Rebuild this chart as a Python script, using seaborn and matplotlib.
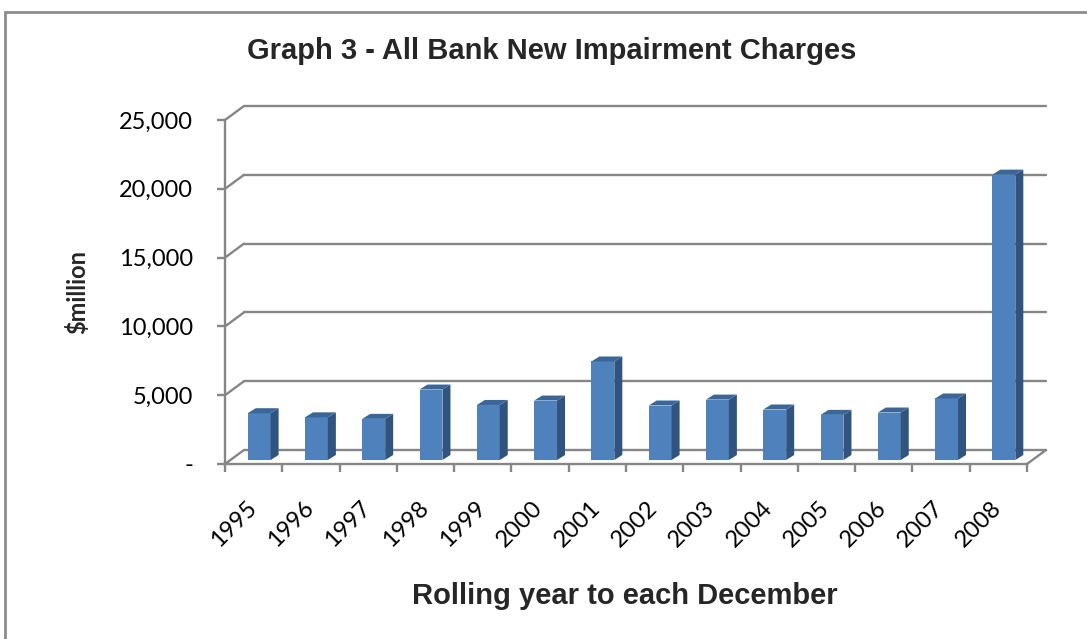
import numpy as np
import pandas as pd
import matplotlib
matplotlib.use("Agg")
import matplotlib.pyplot as plt
import seaborn as sns
from matplotlib.patches import Polygon
from matplotlib.lines import Line2D
from matplotlib.transforms import ScaledTranslation

# ---------------- data ----------------
years = ["1995", "1996", "1997", "1998", "1999", "2000", "2001",
         "2002", "2003", "2004", "2005", "2006", "2007", "2008"]
charges = [3400, 3100, 2990, 5120, 4000, 4320, 7160,
           3960, 4390, 3670, 3280, 3450, 4470, 20740]
y_ticks = [0, 5000, 10000, 15000, 20000, 25000]
y_tick_labels = ["-", "5,000", "10,000", "15,000", "20,000", "25,000"]
title = "Graph 3 - All Bank New Impairment Charges"
x_title = "Rolling year to each December"
y_title = "$million"

# ---------------- style ----------------
sns.set_theme(style="white")
plt.rcParams['font.family'] = ['Lato', 'DejaVu Sans']

W, H = 1087, 639
GRID = "#868686"
FRONT = "#4F81BD"
SIDE = "#31547E"
TOP = "#3B6699"

fig = plt.figure(figsize=(W / 100, H / 100), dpi=100)
fig.patch.set_facecolor("white")
ax = fig.add_axes([225 / W, 1 - 464 / H, 802 / W, 344 / H])
ax.set_facecolor("none")

df = pd.DataFrame({"year": years, "charges": charges})
sns.barplot(data=df, x="year", y="charges", color=FRONT, saturation=1,
            width=0.4, ax=ax, zorder=3, linewidth=0)

ax.set_xlim(-0.5, len(years) - 0.5)
ax.set_ylim(0, 25000)

# pixel -> data conversion
p0 = ax.transData.transform((0, 0))
p1 = ax.transData.transform((1, 1))
kx = 1.0 / (p1[0] - p0[0])   # data units per pixel (x)
ky = 1.0 / (p1[1] - p0[1])   # data units per pixel (y)

def off(px, py):
    return px * kx, py * ky

bx, by = off(19, 14)    # back wall offset
fx, fy = off(5.5, 4)    # bar front face offset
dx, dy = off(8, 5)      # bar depth

# back wall gridlines + side connectors
x0, x1 = -0.5, len(years) - 0.5
for v in y_ticks:
    ax.add_line(Line2D([x0 + bx, x1 + bx], [v + by, v + by], color=GRID,
                       lw=1.7, clip_on=False, zorder=1))
    ax.add_line(Line2D([x0, x0 + bx], [v, v + by], color=GRID,
                       lw=1.7, clip_on=False, zorder=1))
ax.add_line(Line2D([x1, x1 + bx], [0, by], color=GRID, lw=1.7,
                   clip_on=False, zorder=1))

# 3D faces for each bar drawn by seaborn
for p in list(ax.patches):
    x = p.get_x() + fx
    w = p.get_width()
    h = p.get_height()
    p.set_x(x)
    p.set_y(fy)
    p.set_clip_on(False)
    side = Polygon([(x + w, fy), (x + w + dx, fy + dy),
                    (x + w + dx, fy + h + dy), (x + w, fy + h)],
                   closed=True, facecolor=SIDE, edgecolor="none",
                   zorder=3, clip_on=False)
    top = Polygon([(x, fy + h), (x + w, fy + h),
                   (x + w + dx, fy + h + dy), (x + dx, fy + h + dy)],
                  closed=True, facecolor=TOP, edgecolor="none",
                  zorder=3, clip_on=False)
    ax.add_patch(side)
    ax.add_patch(top)

# spines
for s in ["top", "right"]:
    ax.spines[s].set_visible(False)
for s in ["left", "bottom"]:
    ax.spines[s].set_color(GRID)
    ax.spines[s].set_linewidth(1.7)
    ax.spines[s].set_zorder(2)

# y axis ticks
ax.set_yticks(y_ticks)
ax.set_yticklabels(y_tick_labels)
ax.tick_params(axis="y", direction="out", length=6, width=1.7, color=GRID,
               labelsize=17, pad=17, labelcolor="black", left=True)

# x axis: boundary ticks (minor) + centered labels (major)
ax.set_xticks(np.arange(len(years)))
ax.set_xticks(np.arange(-0.5, len(years), 1.0), minor=True)
ax.set_xticklabels(years)
ax.tick_params(axis="x", which="major", length=0, labelsize=17,
               pad=43, labelcolor="black", bottom=True)
ax.tick_params(axis="x", which="minor", direction="out", length=6,
               width=1.7, color=GRID, bottom=True)
shift = ScaledTranslation(-20 / 100, 0, fig.dpi_scale_trans)
for lab in ax.get_xticklabels():
    lab.set_rotation(45)
    lab.set_ha("center")
    lab.set_va("center")
    lab.set_transform(lab.get_transform() + shift)

ax.set_xlabel("")
ax.set_ylabel("")

# titles
fig.text(552 / W, 1 - 51 / H, title, ha="center", va="center",
         fontsize=21, fontweight="bold", family=["Liberation Sans", "DejaVu Sans"])
fig.text(625 / W, 1 - 596 / H, x_title, ha="center", va="center",
         fontsize=21, fontweight="bold", family=["Liberation Sans", "DejaVu Sans"])
fig.text(77 / W, 1 - 292 / H, y_title, ha="center", va="center",
         rotation=90, fontsize=17, fontweight="bold")

# outer chart frame (partially visible)
fig.add_artist(Line2D([5 / W, 5 / W], [0, 1 - 12 / H], color="#8C8C8C",
                      lw=2, transform=fig.transFigure))
fig.add_artist(Line2D([5 / W, 1], [1 - 12 / H, 1 - 12 / H], color="#8C8C8C",
                      lw=2, transform=fig.transFigure))

fig.savefig("out.png", dpi=100, facecolor="white")
